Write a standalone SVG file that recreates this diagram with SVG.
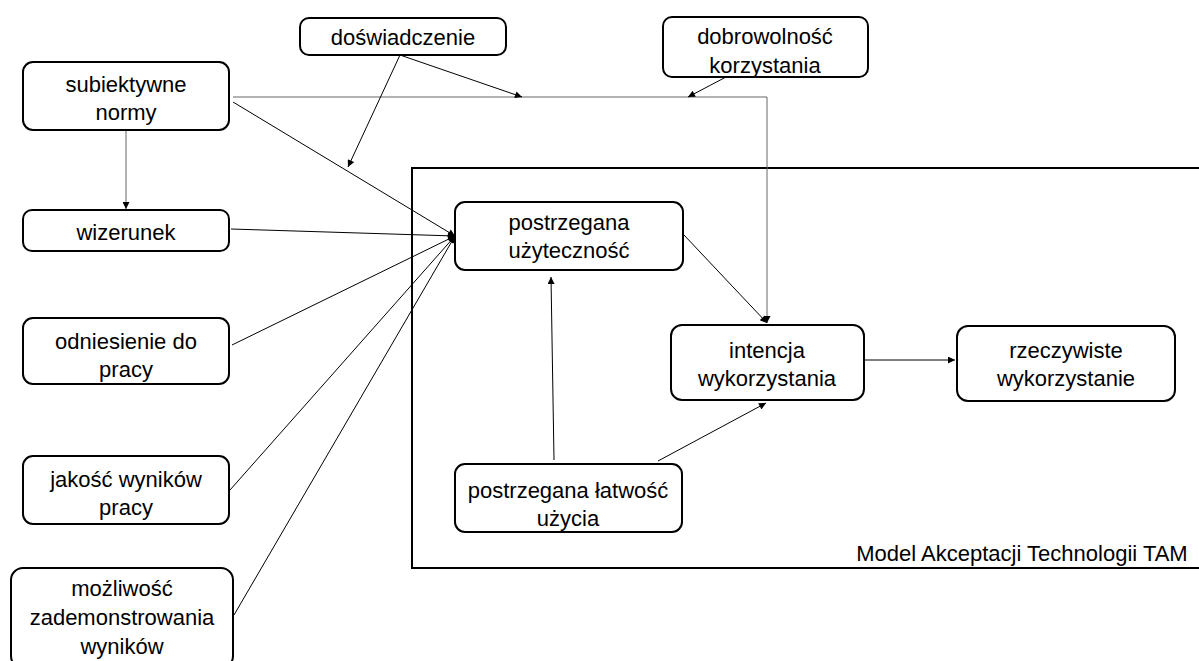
<svg xmlns="http://www.w3.org/2000/svg" width="1199" height="661" viewBox="0 0 1199 661">
  <style>
    .node rect { fill: #fff; stroke: #000; stroke-width: 2; }
    .node text, .label { font-family: "Liberation Sans", Arial, sans-serif; font-size: 22px; fill: #000; text-anchor: middle; }
    .frame { fill: none; stroke: #000; stroke-width: 2; }
    .edge { fill: none; stroke: #000; stroke-width: 1; marker-end: url(#arrow); }
    .edge.grey { stroke: #666; }
  </style>
  <defs>
    <marker id="arrow" viewBox="0 0 10 10" refX="10" refY="5" markerWidth="9" markerHeight="7" markerUnits="userSpaceOnUse" orient="auto">
      <path d="M0,0 L10,5 L0,10 z" fill="#000"/>
    </marker>
  </defs>

  <!-- TAM frame -->
  <rect class="frame" x="412" y="168" width="800" height="400"/>
  <text class="label" x="1022" y="561">Model Akceptacji Technologii TAM</text>

  <!-- connectors -->
  <g id="connectors">
    <line class="edge grey" x1="126" y1="131" x2="126" y2="209"/>
    <line class="edge" x1="233" y1="102" x2="455" y2="236"/>
    <polyline class="edge grey" points="233,97 767,97 767,323"/>
    <line class="edge" x1="400" y1="55" x2="522" y2="97"/>
    <line class="edge" x1="400" y1="55" x2="348" y2="167"/>
    <line class="edge" x1="726" y1="77" x2="688" y2="97"/>
    <line class="edge" x1="231" y1="229" x2="455" y2="236"/>
    <line class="edge" x1="232" y1="345" x2="455" y2="236"/>
    <line class="edge" x1="230" y1="490" x2="455" y2="236"/>
    <line class="edge" x1="234" y1="615" x2="455" y2="236"/>
    <line class="edge" x1="684" y1="235" x2="767" y2="323"/>
    <line class="edge" x1="554" y1="460" x2="551" y2="277"/>
    <line class="edge" x1="658" y1="461" x2="766" y2="403"/>
    <line class="edge" x1="865" y1="360" x2="955" y2="360"/>
  </g>

  <!-- nodes -->
  <g id="doswiadczenie" class="node">
    <rect x="300" y="18" width="206" height="37" rx="9"/>
    <text x="403" y="45">doświadczenie</text>
  </g>
  <g id="dobrowolnosc" class="node">
    <rect x="663" y="17" width="205" height="60" rx="9"/>
    <text x="765" y="44">dobrowolność</text>
    <text x="765" y="73">korzystania</text>
  </g>
  <g id="subiektywne-normy" class="node">
    <rect x="23" y="62" width="206" height="68" rx="10"/>
    <text x="126" y="92">subiektywne</text>
    <text x="126" y="120">normy</text>
  </g>
  <g id="wizerunek" class="node">
    <rect x="23" y="210" width="206" height="41" rx="9"/>
    <text x="126" y="240">wizerunek</text>
  </g>
  <g id="odniesienie" class="node">
    <rect x="23" y="318" width="206" height="66" rx="10"/>
    <text x="126" y="349">odniesienie do</text>
    <text x="126" y="377">pracy</text>
  </g>
  <g id="jakosc" class="node">
    <rect x="23" y="456" width="206" height="68" rx="10"/>
    <text x="126" y="487">jakość wyników</text>
    <text x="126" y="515">pracy</text>
  </g>
  <g id="mozliwosc" class="node">
    <rect x="11" y="568" width="222" height="100" rx="12"/>
    <text x="122" y="596">możliwość</text>
    <text x="122" y="625">zademonstrowania</text>
    <text x="122" y="654">wyników</text>
  </g>
  <g id="uzytecznosc" class="node">
    <rect x="455" y="202" width="228" height="68" rx="10"/>
    <text x="569" y="230">postrzegana</text>
    <text x="569" y="258">użyteczność</text>
  </g>
  <g id="intencja" class="node">
    <rect x="671" y="325" width="193" height="75" rx="11"/>
    <text x="767" y="358">intencja</text>
    <text x="767" y="386">wykorzystania</text>
  </g>
  <g id="rzeczywiste" class="node">
    <rect x="957" y="326" width="218" height="75" rx="11"/>
    <text x="1066" y="358">rzeczywiste</text>
    <text x="1066" y="386">wykorzystanie</text>
  </g>
  <g id="latwosc" class="node">
    <rect x="455" y="464" width="227" height="68" rx="10"/>
    <text x="568" y="498">postrzegana łatwość</text>
    <text x="568" y="526">użycia</text>
  </g>
</svg>
